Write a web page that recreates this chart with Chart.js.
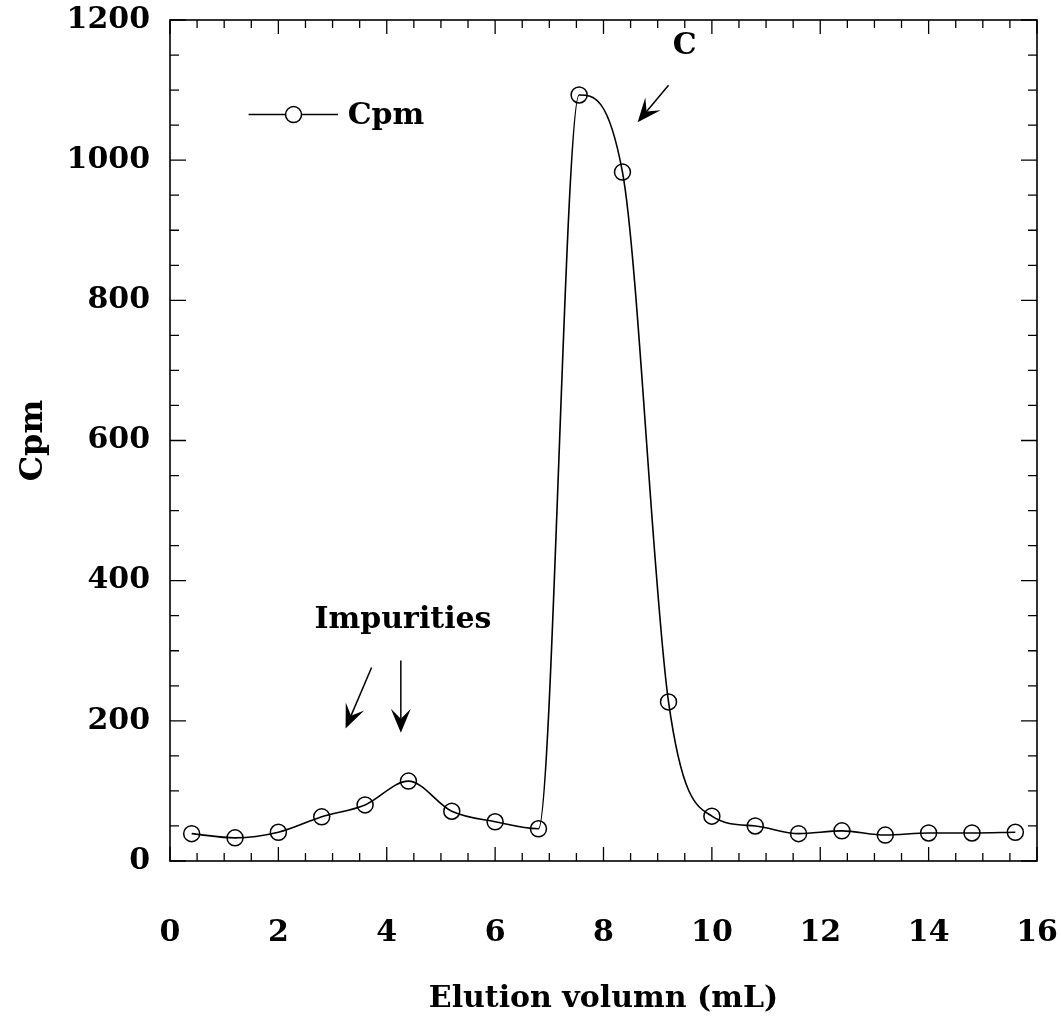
<!DOCTYPE html>
<html lang="en">
<head>
  <meta charset="UTF-8" />
  <title>Cpm vs Elution volumn</title>
  <script src="https://cdn.jsdelivr.net/npm/chart.js"></script>
  <style>
    html, body { margin: 0; padding: 0; background: #fff; }
    #wrap { width: 1061px; height: 1019px; }
  </style>
</head>
<body>
  <div id="wrap"><canvas id="cpmChart"></canvas></div>

  <script>
    // fraction elution volume (mL) and counts
    const volumes = [0.4, 1.2, 2.0, 2.8, 3.6, 4.4, 5.2, 6.0, 6.8, 7.55, 8.35, 9.2, 10.0, 10.8, 11.6, 12.4, 13.2, 14.0, 14.8, 15.6];
    const cpm = [39, 33, 41, 63, 80, 114, 71, 56, 46, 1093, 983, 227, 64, 50, 39, 43, 37, 40, 40, 41];

    const FONT = "'DejaVu Serif', 'Liberation Serif', serif";
    const SIZE = 30;

    // frame, inward ticks, legend and arrows
    const decor = {
      id: "decor",
      afterDraw(chart) {
        const ctx = chart.ctx;
        const a = chart.chartArea;
        const xs = chart.scales.x, ys = chart.scales.y;
        ctx.save();
        ctx.strokeStyle = "#000";
        ctx.lineWidth = 1.6;
        ctx.strokeRect(a.left, a.top, a.right - a.left, a.bottom - a.top);

        ctx.lineWidth = 1.3;
        ctx.beginPath();
        for (let v = 0; v <= 16.001; v += 0.5) {
          const px = xs.getPixelForValue(v);
          const len = Math.abs(v % 2) < 0.01 ? 14 : 8;
          ctx.moveTo(px, a.bottom); ctx.lineTo(px, a.bottom - len);
          ctx.moveTo(px, a.top); ctx.lineTo(px, a.top + len);
        }
        for (let v = 0; v <= 1200; v += 50) {
          const py = ys.getPixelForValue(v);
          const len = v % 200 === 0 ? 16 : 9;
          ctx.moveTo(a.left, py); ctx.lineTo(a.left + len, py);
          ctx.moveTo(a.right, py); ctx.lineTo(a.right - len, py);
        }
        ctx.stroke();

        // legend
        const ly = ys.getPixelForValue(1065);
        const lx0 = xs.getPixelForValue(1.45), lx1 = xs.getPixelForValue(3.1);
        const lc = xs.getPixelForValue(2.28);
        ctx.lineWidth = 1.5;
        ctx.beginPath();
        ctx.moveTo(lx0, ly); ctx.lineTo(lc - 8, ly);
        ctx.moveTo(lc + 8, ly); ctx.lineTo(lx1, ly);
        ctx.stroke();
        ctx.beginPath();
        ctx.arc(lc, ly, 8, 0, Math.PI * 2);
        ctx.stroke();
        ctx.fillStyle = "#000";
        ctx.font = "bold " + SIZE + "px " + FONT;
        ctx.textBaseline = "middle";
        ctx.textAlign = "left";
        ctx.fillText("Cpm", xs.getPixelForValue(3.28), ly + 2);

        // annotations
        ctx.textAlign = "center";
        ctx.fillText("C", xs.getPixelForValue(9.5), ys.getPixelForValue(1162));
        ctx.fillText("Impurities", xs.getPixelForValue(4.3), ys.getPixelForValue(343));

        function arrow(x0, y0, x1, y1) {
          const p0x = xs.getPixelForValue(x0), p0y = ys.getPixelForValue(y0);
          const p1x = xs.getPixelForValue(x1), p1y = ys.getPixelForValue(y1);
          const ang = Math.atan2(p1y - p0y, p1x - p0x);
          const L = 24, W = 10, notch = 14;
          ctx.lineWidth = 1.5;
          ctx.beginPath();
          ctx.moveTo(p0x, p0y);
          ctx.lineTo(p1x - Math.cos(ang) * notch, p1y - Math.sin(ang) * notch);
          ctx.stroke();
          const bx = p1x - Math.cos(ang) * L, by = p1y - Math.sin(ang) * L;
          const nx = -Math.sin(ang), ny = Math.cos(ang);
          ctx.beginPath();
          ctx.moveTo(p1x, p1y);
          ctx.lineTo(bx + nx * W, by + ny * W);
          ctx.lineTo(p1x - Math.cos(ang) * notch, p1y - Math.sin(ang) * notch);
          ctx.lineTo(bx - nx * W, by - ny * W);
          ctx.closePath();
          ctx.fill();
        }
        arrow(9.2, 1107, 8.63, 1054);
        arrow(3.72, 276, 3.24, 189);
        arrow(4.26, 286, 4.26, 183);
        ctx.restore();
      }
    };

    const tickFont = { family: FONT, size: SIZE, weight: "bold" };

    new Chart(document.getElementById("cpmChart"), {
      type: "line",
      data: {
        datasets: [{
          label: "Cpm",
          data: volumes.map((v, i) => ({ x: v, y: cpm[i] })),
          borderColor: "#000",
          borderWidth: 1.6,
          pointStyle: "circle",
          pointRadius: 8,
          pointBorderWidth: 1.5,
          pointBorderColor: "#000",
          pointBackgroundColor: "rgba(0,0,0,0)",
          cubicInterpolationMode: "monotone",
          fill: false
        }]
      },
      options: {
        responsive: true,
        maintainAspectRatio: false,
        animation: false,
        layout: { padding: { top: 20, right: 24, left: 0, bottom: 0 } },
        plugins: { legend: { display: false }, tooltip: { enabled: false } },
        scales: {
          x: {
            type: "linear",
            min: 0, max: 16,
            grid: { display: false, drawTicks: false },
            border: { display: false },
            ticks: { stepSize: 2, padding: 54, color: "#000", font: tickFont, callback: v => String(v) },
            title: { display: true, text: "Elution volumn (mL)", color: "#000", padding: { top: 0, bottom: 2 }, font: tickFont },
            afterFit(s) { s.height = 158; s.paddingLeft = 0; s.paddingRight = 0; }
          },
          y: {
            min: 0, max: 1200,
            grid: { display: false, drawTicks: false },
            border: { display: false },
            ticks: { stepSize: 200, padding: 20, color: "#000", font: tickFont, callback: v => String(v) },
            title: { display: true, text: "Cpm", color: "#000", padding: { top: 14, bottom: 0 }, font: { family: FONT, size: 32, weight: "bold" } },
            afterFit(s) { s.width = 170; s.paddingTop = 0; s.paddingBottom = 0; }
          }
        }
      },
      plugins: [decor]
    });
  </script>
</body>
</html>
